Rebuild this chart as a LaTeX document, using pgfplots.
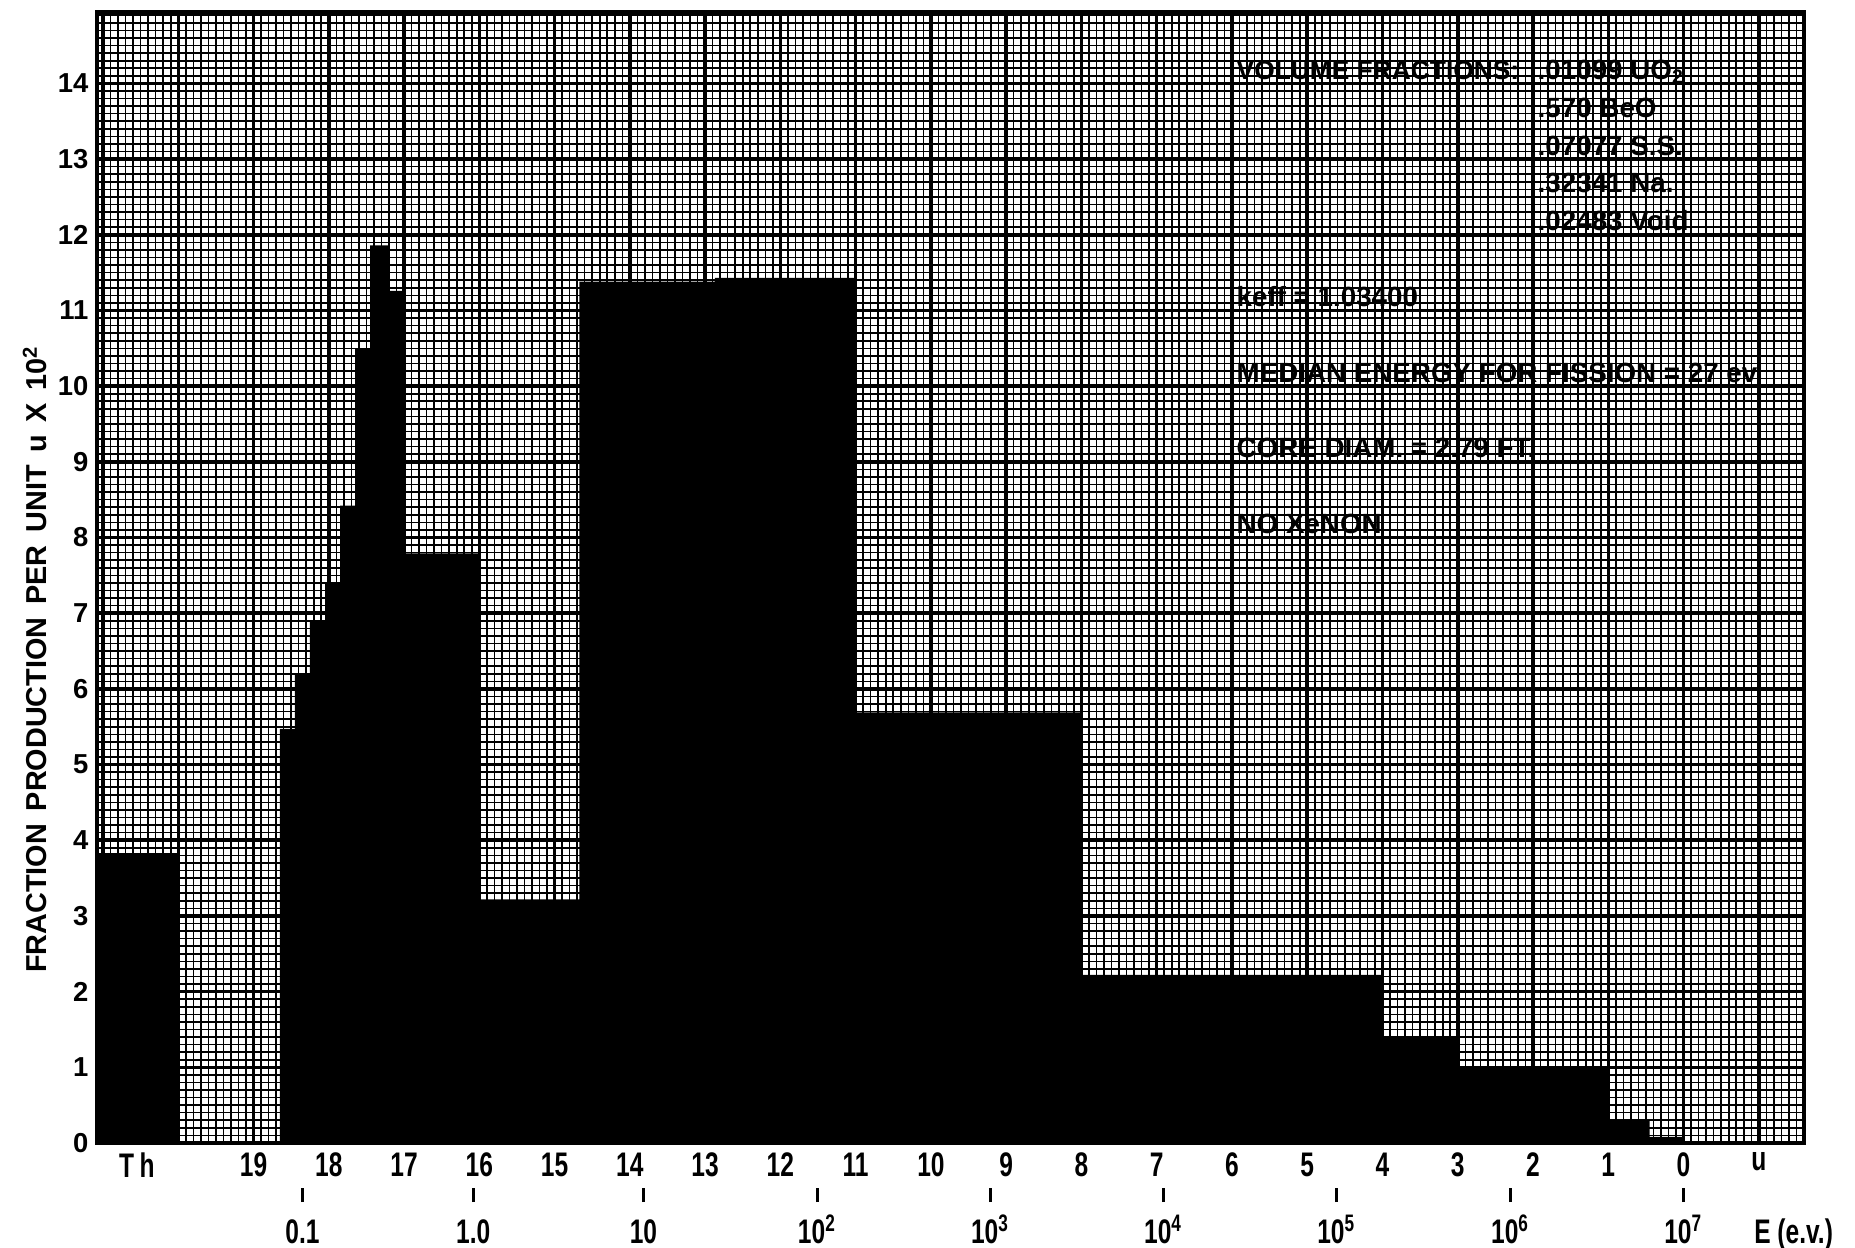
\documentclass[border=0pt]{standalone}
\usepackage{fontspec}
\setmainfont{Liberation Sans}
\newfontfamily\condfont{Liberation Sans}[FakeStretch=0.72]
\usepackage{pgfplots}
\pgfplotsset{compat=1.18}
\newcommand{\xlab}{\condfont\bfseries\fontsize{9.7}{10}\selectfont}
\newcommand{\annot}{\bfseries\fontsize{7.9}{8}\selectfont}
\newcommand{\tbar}{\rule{0.3mm}{1.4mm}}
\begin{document}
\begin{tikzpicture}
\useasboundingbox (-9.7mm,-10.5mm) rectangle (175.8mm,114.3mm);
\begin{axis}[
  at={(0,0)}, anchor=south west,
  scale only axis, width=170.7mm, height=113.07mm,
  x dir=reverse,
  xmin=-1.6, xmax=21.08, ymin=0, ymax=14.94,
  xtick={-1,0,...,21},
  xticklabels={u,0,1,2,3,4,5,6,7,8,9,10,11,12,13,14,15,16,17,18,19,{},{}},
  extra x ticks={20.55}, extra x tick labels={T\,h},
  extra x tick style={grid=none},
  ytick={0,1,...,14},
  yticklabels={0,1,2,3,4,5,6,7,8,9,10,11,12,13,14},
  minor xtick={-1.5,-1.4,...,21.05},
  minor ytick={0.1,0.2,...,14.92},
  grid=both,
  major grid style={black, line width=1.0pt},
  minor grid style={black, line width=0.45pt},
  axis line style={line width=1.3pt},
  major tick length=0pt, minor tick length=0pt,
  xticklabel style={inner sep=0pt, anchor=north, yshift=-0.9mm, font=\xlab},
  yticklabel style={inner sep=0pt, anchor=east, xshift=-0.8mm, font=\bfseries\fontsize{7.8}{8}\selectfont},
  /pgf/number format/assume math mode=true,
  clip=false,
]
% Thermal group
\addplot[fill=black, draw=none, const plot] coordinates {(20,3.83) (21.08,3.83)} \closedcycle;
% Epithermal and fast groups
\addplot[fill=black, draw=none, const plot] coordinates {
 (0,0.08) (0.45,0.30) (1,1.00) (3,1.41) (4,2.22) (8,5.69) (11,11.43) (12.87,11.38)
 (14.67,3.22) (16,7.79) (17,11.26) (17.2,11.86) (17.45,10.50) (17.65,8.42)
 (17.85,7.41) (18.05,6.91) (18.25,6.20) (18.45,5.47) (18.65,5.47)} \closedcycle;

% energy scale
\node[anchor=north, inner sep=0pt, yshift=-4.45mm] at (axis cs:18.35,0) {\tbar};
\node[anchor=north, inner sep=0pt, yshift=-4.45mm] at (axis cs:16.08,0) {\tbar};
\node[anchor=north, inner sep=0pt, yshift=-4.45mm] at (axis cs:13.82,0) {\tbar};
\node[anchor=north, inner sep=0pt, yshift=-4.45mm] at (axis cs:11.51,0) {\tbar};
\node[anchor=north, inner sep=0pt, yshift=-4.45mm] at (axis cs:9.21,0) {\tbar};
\node[anchor=north, inner sep=0pt, yshift=-4.45mm] at (axis cs:6.91,0) {\tbar};
\node[anchor=north, inner sep=0pt, yshift=-4.45mm] at (axis cs:4.61,0) {\tbar};
\node[anchor=north, inner sep=0pt, yshift=-4.45mm] at (axis cs:2.30,0) {\tbar};
\node[anchor=north, inner sep=0pt, yshift=-4.45mm] at (axis cs:0,0) {\tbar};
\node[anchor=base, inner sep=0pt, yshift=-10.1mm] at (axis cs:18.35,0) {\xlab 0.1};
\node[anchor=base, inner sep=0pt, yshift=-10.1mm] at (axis cs:16.08,0) {\xlab 1.0};
\node[anchor=base, inner sep=0pt, yshift=-10.1mm] at (axis cs:13.82,0) {\xlab 10};
\node[anchor=base, inner sep=0pt, yshift=-10.1mm] at (axis cs:11.51,0) {\xlab 10\textsuperscript{2}};
\node[anchor=base, inner sep=0pt, yshift=-10.1mm] at (axis cs:9.21,0) {\xlab 10\textsuperscript{3}};
\node[anchor=base, inner sep=0pt, yshift=-10.1mm] at (axis cs:6.91,0) {\xlab 10\textsuperscript{4}};
\node[anchor=base, inner sep=0pt, yshift=-10.1mm] at (axis cs:4.61,0) {\xlab 10\textsuperscript{5}};
\node[anchor=base, inner sep=0pt, yshift=-10.1mm] at (axis cs:2.30,0) {\xlab 10\textsuperscript{6}};
\node[anchor=base, inner sep=0pt, yshift=-10.1mm] at (axis cs:0,0) {\xlab 10\textsuperscript{7}};
\node[anchor=base west, inner sep=0pt, yshift=-10.1mm] at (axis cs:-0.93,0) {\xlab E (e.v.)};

% annotations
\node[anchor=base west, inner sep=0pt, xshift=0.4mm, yshift=0.4mm] at (axis cs:6,14) {\bfseries\fontsize{7.5}{8}\selectfont VOLUME FRACTIONS:};
\node[anchor=base west, inner sep=0pt, xshift=0.4mm, yshift=0.4mm] at (axis cs:2,14) {\annot .01099 UO\textsubscript{2}};
\node[anchor=base west, inner sep=0pt, xshift=0.4mm, yshift=0.4mm] at (axis cs:2,13.5) {\annot .570 BeO};
\node[anchor=base west, inner sep=0pt, xshift=0.4mm, yshift=0.4mm] at (axis cs:2,13) {\annot .07077 S.S.};
\node[anchor=base west, inner sep=0pt, xshift=0.4mm, yshift=0.4mm] at (axis cs:2,12.5) {\annot .32341 Na.};
\node[anchor=base west, inner sep=0pt, xshift=0.4mm, yshift=0.4mm] at (axis cs:2,12) {\annot .02483 Void};
\node[anchor=base west, inner sep=0pt, xshift=0.4mm, yshift=0.4mm] at (axis cs:6,11) {\annot keff = 1.03400};
\node[anchor=base west, inner sep=0pt, xshift=0.4mm, yshift=0.4mm] at (axis cs:6,10) {\annot MEDIAN ENERGY FOR FISSION = 27 ev};
\node[anchor=base west, inner sep=0pt, xshift=0.4mm, yshift=0.4mm] at (axis cs:6,9) {\annot CORE DIAM. = 2.79 FT.};
\node[anchor=base west, inner sep=0pt, xshift=0.4mm, yshift=0.4mm] at (axis cs:6,8) {\annot NO XeNON};
\end{axis}
% y label (frame lower-left corner is at the origin)
\node[rotate=90, anchor=center, inner sep=0pt] at (-6.2mm,48.4mm)
  {\bfseries\fontsize{8.2}{9}\selectfont FRACTION\ \,PRODUCTION\ \,PER\ \,UNIT\ \,u\ \,X\ \,10\textsuperscript{2}};
\end{tikzpicture}
\end{document}
